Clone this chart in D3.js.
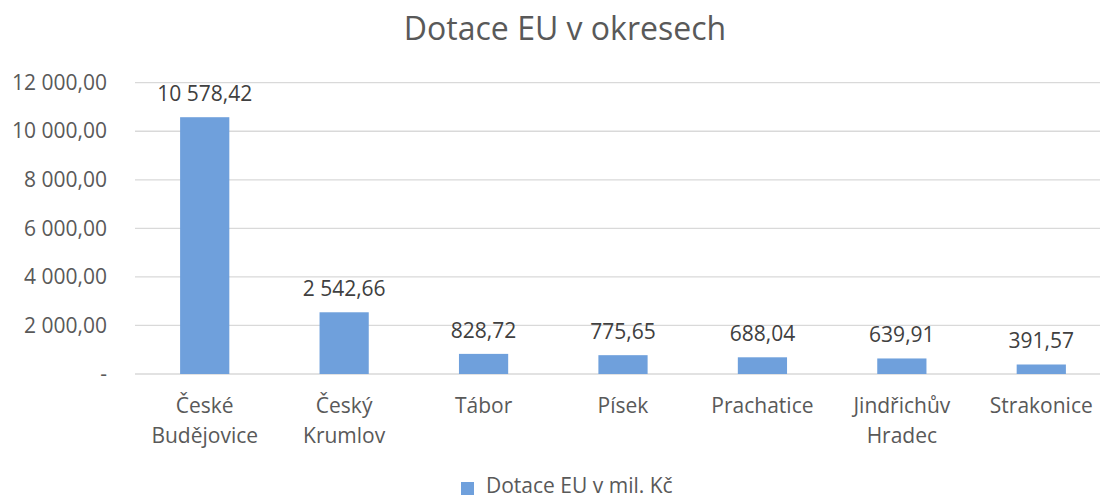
<!DOCTYPE html>
<html>
<head>
<meta charset="utf-8">
<script src="https://cdn.jsdelivr.net/npm/d3@7"></script>
<style>
  html, body { margin: 0; padding: 0; background: #fff; }
  svg { display: block; font-family: "Open Sans", sans-serif; }
</style>
</head>
<body>
<svg id="chart" width="1100" height="497"></svg>
<script>
// ---- data ----
const categories = ["České Budějovice", "Český Krumlov", "Tábor", "Písek", "Prachatice", "Jindřichův Hradec", "Strakonice"];
const values = [10578.42, 2542.66, 828.72, 775.65, 688.04, 639.91, 391.57];
const yTicks = [0, 2000, 4000, 6000, 8000, 10000, 12000];
const seriesName = "Dotace EU v mil. Kč";
const title = "Dotace EU v okresech";

// ---- layout ----
const W = 1100, H = 497;
const plot = { left: 135, right: 1111, top: 82.7, bottom: 374 };
const barColor = "#6FA0DC";
const gridColor = "#D9D9D9";
const textColor = "#595959";
const labelColor = "#404040";

const loc = d3.formatLocale({ decimal: ",", thousands: " ", grouping: [3], currency: ["", ""] });
const fmt = loc.format(",.2f");
const tickFmt = v => v === 0 ? "-" : fmt(v);

const svg = d3.select("#chart");

const x = d3.scaleBand()
  .domain(categories)
  .range([plot.left, plot.right])
  .paddingInner(0.647)
  .paddingOuter(0.3235);

const y = d3.scaleLinear()
  .domain([0, 12000])
  .range([plot.bottom, plot.top]);

// gridlines
svg.append("g")
  .selectAll("line")
  .data(yTicks)
  .join("line")
  .attr("x1", plot.left)
  .attr("x2", plot.right)
  .attr("y1", d => y(d))
  .attr("y2", d => y(d))
  .attr("stroke", gridColor)
  .attr("stroke-width", 1.3);

// y axis labels
const yAxis = d3.axisLeft(y).tickValues(yTicks).tickFormat(tickFmt).tickSize(0).tickPadding(0);
const yg = svg.append("g").attr("transform", `translate(107,0)`).call(yAxis);
yg.select(".domain").remove();
yg.selectAll("text")
  .attr("fill", textColor)
  .attr("font-size", 21)
  .attr("font-family", "'Open Sans', sans-serif");

// bars
svg.append("g")
  .selectAll("rect")
  .data(values)
  .join("rect")
  .attr("x", (d, i) => x(categories[i]))
  .attr("width", x.bandwidth())
  .attr("y", d => y(d))
  .attr("height", d => y(0) - y(d))
  .attr("fill", barColor);

// data labels
svg.append("g")
  .selectAll("text")
  .data(values)
  .join("text")
  .attr("x", (d, i) => x(categories[i]) + x.bandwidth() / 2)
  .attr("y", d => y(d) - 16)
  .attr("text-anchor", "middle")
  .attr("font-size", 21)
  .attr("fill", labelColor)
  .text(d => fmt(d));

// category labels
const xAxis = d3.axisBottom(x).tickSize(0).tickPadding(0);
const xg = svg.append("g").attr("transform", `translate(0,${plot.bottom})`).call(xAxis);
xg.select(".domain").remove();
xg.selectAll("text")
  .attr("fill", textColor)
  .attr("font-size", 21)
  .attr("font-family", "'Open Sans', sans-serif")
  .attr("dy", null)
  .attr("y", 0)
  .each(function(d) {
    const t = d3.select(this);
    t.text(null);
    d.split(" ").forEach((w, i) => {
      t.append("tspan").attr("x", 0).attr("y", 39 + i * 30).text(w);
    });
  });

// title
svg.append("text")
  .attr("x", 565)
  .attr("y", 40)
  .attr("text-anchor", "middle")
  .attr("font-size", 32)
  .attr("fill", textColor)
  .text(title);

// legend
const lg = svg.append("g");
lg.append("rect").attr("x", 461).attr("y", 482).attr("width", 13).attr("height", 13).attr("fill", barColor);
lg.append("text").attr("x", 486).attr("y", 493).attr("font-size", 21).attr("fill", textColor).text(seriesName);
</script>
</body>
</html>
